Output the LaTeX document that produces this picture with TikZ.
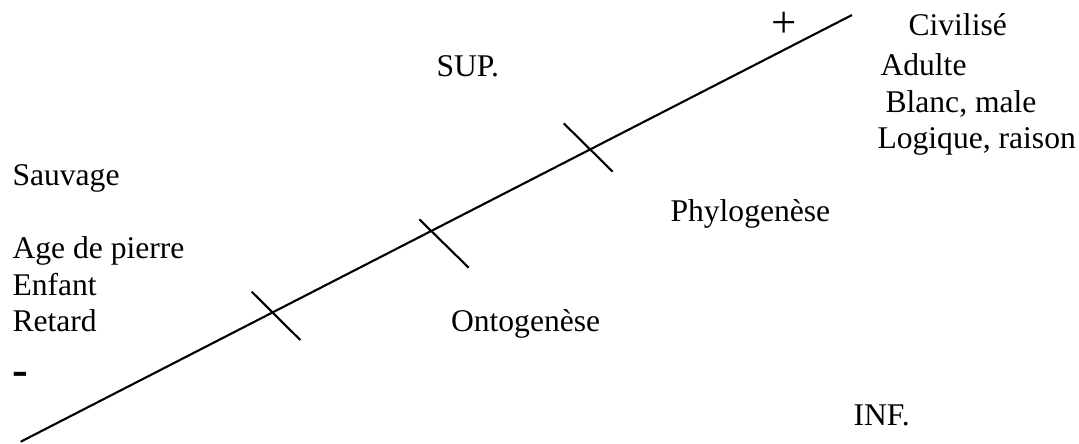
\documentclass[tikz,border=0pt]{standalone}
\usepackage{fontspec}
\setmainfont{Liberation Serif}
\usepackage{tikz}
\usetikzlibrary{positioning}

\begin{document}
\begin{tikzpicture}[
  x=0.3798pt, y=-0.3798pt,
  font=\fontsize{12}{14}\selectfont,
  word/.style={anchor=base west,inner sep=0pt},
  axisline/.style={line width=0.8pt},
  tickmark/.style={line width=0.8pt}
]
\useasboundingbox (0,0) rectangle (1079,443);
% the scale
\coordinate (low) at (20.7,441.7);
\coordinate (high) at (852,15);
\draw[axisline] (low) -- (high);
\coordinate (t1a) at (251.7,291.7); \coordinate (t1b) at (300.3,340);
\coordinate (t2a) at (419.3,219.3); \coordinate (t2b) at (468.7,267.7);
\coordinate (t3a) at (563.7,123.3); \coordinate (t3b) at (612.7,171.7);
\draw[tickmark] (t1a) -- (t1b);
\draw[tickmark] (t2a) -- (t2b);
\draw[tickmark] (t3a) -- (t3b);
% top end
\node[inner sep=0pt,font=\fontsize{17}{20}\selectfont] (plus) at (784,25) {+};
\node[word] (sup) at (436,76) {SUP.};
\node[word] (civ) at (908,35) {Civilisé};
\node[word] (adu) at (880,75) {Adulte};
\node[word] (bla) at (885,112) {Blanc, male};
\node[word] (log) at (877,148) {Logique, raison};
% bottom end
\node[word] (sau) at (12,185) {Sauvage};
\node[word] (age) at (12,258) {Age de pierre};
\node[word] (enf) at (12,295) {Enfant};
\node[word] (ret) at (12,331.5) {Retard};
\node[word,font=\fontsize{18}{20}\selectfont\bfseries] (minus) at (12,385) {-};
\node[word] (phy) at (670,221) {Phylogenèse};
\node[word] (ont) at (450.5,331.5) {Ontogenèse};
\node[word] (inf) at (853,425) {INF.};
\end{tikzpicture}
\end{document}
